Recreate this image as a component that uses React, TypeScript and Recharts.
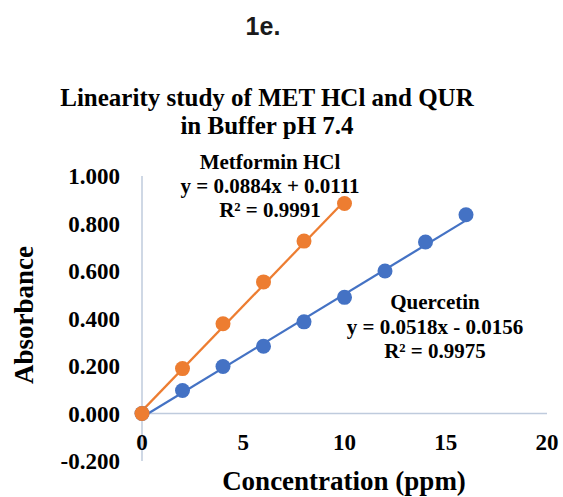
import { LineChart, Line, XAxis, YAxis, ReferenceLine } from "recharts";

const metforminPoints = [
  { x: 0, y: 0 },
  { x: 2, y: 0.189 },
  { x: 4, y: 0.378 },
  { x: 6, y: 0.554 },
  { x: 8, y: 0.726 },
  { x: 10, y: 0.884 },
];

const quercetinPoints = [
  { x: 0, y: 0 },
  { x: 2, y: 0.097 },
  { x: 4, y: 0.198 },
  { x: 6, y: 0.283 },
  { x: 8, y: 0.386 },
  { x: 10, y: 0.489 },
  { x: 12, y: 0.6 },
  { x: 14, y: 0.722 },
  { x: 16, y: 0.837 },
];

// trendline end points, as drawn in the picture
const metforminTrend = [
  { x: 0, y: 0.011 },
  { x: 10, y: 0.895 },
];
const quercetinTrend = [
  { x: 0, y: -0.016 },
  { x: 16, y: 0.813 },
];

const xTicks = [0, 5, 10, 15, 20];
const yTicks = [-0.2, 0, 0.2, 0.4, 0.6, 0.8, 1.0];

const metforminLabel = ["Metformin HCl", "y = 0.0884x + 0.0111", "R² = 0.9991"];
const quercetinLabel = ["Quercetin", "y = 0.0518x - 0.0156", "R² = 0.9975"];
const titleLines = ["Linearity study of MET HCl and QUR", "in Buffer pH 7.4"];

const ORANGE = "#ED7D31";
const BLUE = "#4472C4";
const AXIS = "#BFCBDD";
const SERIF = "'Liberation Serif', 'Times New Roman', serif";

function XTick(props: any) {
  const { x, y, payload } = props;
  return (
    <text
      x={x}
      y={y}
      dy={-11}
      textAnchor="middle"
      fontFamily={SERIF}
      fontWeight="bold"
      fontSize={23}
      fill="#000"
    >
      {payload.value}
    </text>
  );
}

export default function App() {
  const textStyle = { fontFamily: SERIF, fontWeight: "bold" as const, fill: "#000" };
  return (
    <div
      style={{
        position: "absolute",
        left: 0,
        top: 0,
        width: 563,
        height: 497,
        background: "#fff",
      }}
    >
      <LineChart
        width={563}
        height={497}
        margin={{ top: 176, right: 16, bottom: 0, left: 0 }}
      >
        <XAxis
          type="number"
          dataKey="x"
          domain={[0, 20]}
          ticks={xTicks}
          axisLine={false}
          tickLine={false}
          tickSize={0}
          tickMargin={0}
          height={36}
          tick={<XTick />}
        />
        <YAxis
          type="number"
          dataKey="y"
          domain={[-0.2, 1]}
          ticks={yTicks}
          width={142}
          tickSize={0}
          tickMargin={22}
          tickLine={false}
          axisLine={{ stroke: AXIS, strokeWidth: 1.5 }}
          tickFormatter={(v: number) => v.toFixed(3)}
          tick={{ fontFamily: SERIF, fontWeight: "bold", fontSize: 23, fill: "#000" }}
        />
        <ReferenceLine y={0} stroke={AXIS} strokeWidth={1.5} />
        <Line
          data={quercetinPoints}
          dataKey="y"
          stroke="none"
          dot={{ r: 7.5, fill: BLUE, stroke: BLUE, strokeWidth: 0 }}
          activeDot={false}
          isAnimationActive={false}
        />
        <Line
          data={metforminPoints}
          dataKey="y"
          stroke="none"
          dot={{ r: 7.5, fill: ORANGE, stroke: ORANGE, strokeWidth: 0 }}
          activeDot={false}
          isAnimationActive={false}
        />
        <Line
          data={quercetinTrend}
          dataKey="y"
          type="linear"
          stroke={BLUE}
          strokeWidth={2.25}
          dot={false}
          activeDot={false}
          isAnimationActive={false}
        />
        <Line
          data={metforminTrend}
          dataKey="y"
          type="linear"
          stroke={ORANGE}
          strokeWidth={2.25}
          dot={false}
          activeDot={false}
          isAnimationActive={false}
        />
      </LineChart>

      <svg
        width={563}
        height={497}
        style={{ position: "absolute", left: 0, top: 0, pointerEvents: "none" }}
      >
        <text
          x={263}
          y={35}
          textAnchor="middle"
          fontFamily="'Liberation Sans', Arial, sans-serif"
          fontWeight="bold"
          fontSize={25}
          fill="#1a1a1a"
        >
          1e.
        </text>
        {titleLines.map((t, i) => (
          <text key={t} x={267} y={106 + i * 28} textAnchor="middle" fontSize={25} {...textStyle}>
            {t}
          </text>
        ))}
        {metforminLabel.map((t, i) => (
          <text key={t} x={270} y={169 + i * 24} textAnchor="middle" fontSize={21} {...textStyle}>
            {t}
          </text>
        ))}
        {quercetinLabel.map((t, i) => (
          <text key={t} x={435} y={309 + i * 24.5} textAnchor="middle" fontSize={21} {...textStyle}>
            {t}
          </text>
        ))}
        <text
          transform="translate(33, 315) rotate(-90)"
          textAnchor="middle"
          fontSize={27}
          {...textStyle}
        >
          Absorbance
        </text>
        <text x={344} y={490} textAnchor="middle" fontSize={27} {...textStyle}>
          Concentration (ppm)
        </text>
      </svg>
    </div>
  );
}
